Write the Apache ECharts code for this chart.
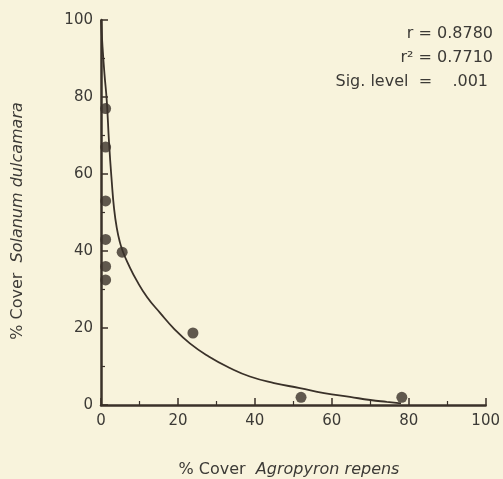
<!DOCTYPE html>
<html><head><meta charset="utf-8">
<script src="https://cdn.jsdelivr.net/npm/echarts@6/dist/echarts.min.js"></script>
<style>html,body{margin:0;padding:0;background:#f8f3dc;}#c{width:503px;height:479px;}</style>
</head><body><div id="c"></div>
<script>
// observed points (% cover Agropyron repens, % cover Solanum dulcamara)
const obsX = [1.2, 1.2, 1.2, 1.2, 1.2, 1.2, 5.5, 23.9, 52.0, 78.2];
const obsY = [77, 67, 53, 43, 36, 32.5, 39.7, 18.7, 2.0, 2.0];
// fitted curve
const fitX = [0, 0.4, 0.9, 1.5, 2.1, 2.8, 3.4, 4.1, 4.9, 5.7, 7.0, 9.3, 12, 15.3, 19, 23.1, 28, 33.5, 38.7, 45, 51.7, 58, 64.7, 70, 74.3, 78];
const fitY = [100, 93, 86, 79, 68, 58, 51, 46, 42.3, 39.8, 36.8, 32.3, 28, 24, 19.8, 16, 12.6, 9.6, 7.4, 5.7, 4.4, 3.1, 2.1, 1.3, 0.8, 0.4];
const xTicks = [0, 20, 40, 60, 80, 100];
const yTicks = [0, 20, 40, 60, 80, 100];
const stats = ['r = 0.8780', 'r\u00b2 = 0.7710', 'Sig. level  =    .001'];

const ink = '#3a3129';
const txt = '#3c3a36';
const font = 'DejaVu Sans, sans-serif';
const chart = echarts.init(document.getElementById('c'));
const axisCommon = {
  min: 0, max: 100, interval: 20,
  axisLine: {show: true, onZero: false, lineStyle: {color: ink, width: 2.5}},
  axisTick: {show: true, inside: true, length: 7, lineStyle: {color: ink, width: 1.5}},
  minorTick: {show: true, splitNumber: 2, length: 4, lineStyle: {color: ink, width: 1.2}},
  splitLine: {show: false},
  axisLabel: {color: txt, fontSize: 15, fontFamily: font}
};
chart.setOption({
  backgroundColor: '#f8f3dc',
  animation: false,
  grid: {left: 101, right: 16, top: 20, bottom: 74},
  xAxis: Object.assign({}, axisCommon, {
    type: 'value',
    axisLabel: Object.assign({}, axisCommon.axisLabel, {margin: 9, formatter: v => xTicks.includes(v) ? String(v) : ''})
  }),
  yAxis: Object.assign({}, axisCommon, {
    type: 'value',
    axisLabel: Object.assign({}, axisCommon.axisLabel, {margin: 8, formatter: v => yTicks.includes(v) ? String(v) : ''})
  }),
  graphic: [
    {type: 'text', x: 493, y: 34, style: {text: stats[0], fill: txt, font: '16px ' + font, textAlign: 'right', textVerticalAlign: 'middle'}},
    {type: 'text', x: 493, y: 58, style: {text: stats[1], fill: txt, font: '16px ' + font, textAlign: 'right', textVerticalAlign: 'middle'}},
    {type: 'text', x: 488, y: 82, style: {text: stats[2], fill: txt, font: '16px ' + font, textAlign: 'right', textVerticalAlign: 'middle'}},
    {type: 'text', x: 289, y: 470, style: {textAlign: 'center', textVerticalAlign: 'middle', rich: {a: {fontSize: 16, fontFamily: font, fill: txt}, b: {fontSize: 16, fontFamily: font, fontStyle: 'italic', fill: txt}}, text: '{a|% Cover  }{b|Agropyron repens}'}},
    {type: 'text', x: 18, y: 221, rotation: Math.PI / 2, style: {textAlign: 'center', textVerticalAlign: 'middle', rich: {a: {fontSize: 16, fontFamily: font, fill: txt}, b: {fontSize: 16, fontFamily: font, fontStyle: 'italic', fill: txt}}, text: '{a|% Cover  }{b|Solanum dulcamara}'}}
  ],
  series: [
    {type: 'line', data: fitX.map((x, i) => [x, fitY[i]]), smooth: true, symbol: 'none', lineStyle: {color: ink, width: 1.8}, z: 2},
    {type: 'scatter', data: obsX.map((x, i) => [x, obsY[i]]), symbolSize: 11, itemStyle: {color: ink}, z: 3}
  ]
});
</script></body></html>
